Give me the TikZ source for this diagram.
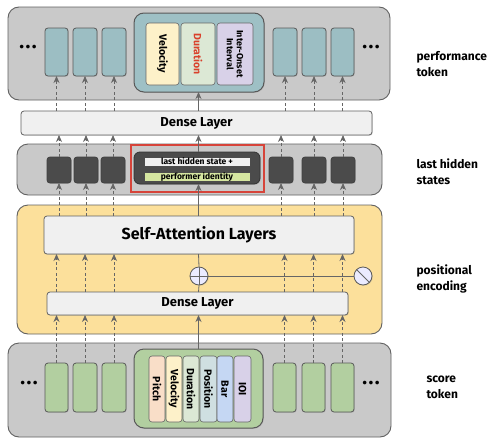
\documentclass[tikz,border=0pt]{standalone}
\usepackage{fontspec}
\setmainfont{Fira Sans}
\usetikzlibrary{arrows.meta,shadows}
\definecolor{panelgray}{HTML}{C9C9C9}
\definecolor{teal}{HTML}{9CBEC3}
\definecolor{tealc}{HTML}{9EC0C5}
\definecolor{darkbox}{HTML}{4B4B4B}
\definecolor{yel}{HTML}{FCE09B}
\definecolor{grn}{HTML}{B2CFA0}
\definecolor{dense}{HTML}{F0F0F0}
\definecolor{redb}{HTML}{D6443A}
\definecolor{cvel}{HTML}{FDF1C9}
\definecolor{cdur}{HTML}{DCE8D5}
\definecolor{cioi}{HTML}{D8D1E8}
\definecolor{cpit}{HTML}{F9DEC8}
\definecolor{cpos}{HTML}{CFDFE1}
\definecolor{cbar}{HTML}{C5D7F3}
\definecolor{cpi}{HTML}{D5E6A0}
\definecolor{lineg}{HTML}{666666}
\definecolor{durred}{HTML}{D9412B}
\newcommand{\rb}[7][]{%
  \pgfmathsetmacro\rbw{#5-#3}\pgfmathsetmacro\rbh{#6-#4}%
  \node[#1, minimum width=\rbw pt, minimum height=\rbh pt, inner sep=0pt, outer sep=0pt] (#2) at ({(#3+#5)/2},{(#4+#6)/2}) {#7};}
\newcommand{\rbr}[7][]{%
  \pgfmathsetmacro\rbw{#5-#3}\pgfmathsetmacro\rbh{#6-#4}%
  \node[#1, rotate=-90, minimum width=\rbh pt, minimum height=\rbw pt, inner sep=0pt, outer sep=0pt] (#2) at ({(#3+#5)/2},{(#4+#6)/2}) {#7};}
\newcommand{\mydots}{.\hspace{1.5pt}.\hspace{1.5pt}.}
\tikzset{
  panel/.style={draw=black!62, line width=0.9pt, rounded corners=11pt},
  tok/.style={draw=black!65, line width=0.8pt, rounded corners=3pt, drop shadow={opacity=0.25, shadow xshift=0.8pt, shadow yshift=-0.8pt}},
  bar/.style={draw=black!60, line width=0.6pt, rounded corners=3pt, font=\bfseries\fontsize{10.5}{11.5}\selectfont, align=center},
  layer/.style={draw=black!62, line width=0.8pt, fill=dense, rounded corners=3pt, font=\bfseries, drop shadow={opacity=0.25, shadow xshift=0.8pt, shadow yshift=-0.8pt}},
  darr/.style={draw=lineg, line width=0.8pt, dash pattern=on 3pt off 2.5pt, -{Stealth[length=7pt,width=6pt,inset=2.2pt]}},
  sarr/.style={draw=lineg, line width=0.8pt, -{Stealth[length=7pt,width=6pt,inset=2.2pt]}},
  sline/.style={draw=lineg, line width=0.8pt},
  dots/.style={font=\bfseries\fontsize{20}{20}\selectfont},
  side/.style={anchor=west, align=left, font=\bfseries\fontsize{12}{16}\selectfont},
  ring/.style={circle, draw=black!65, fill=white!92!blue, line width=0.8pt, minimum size=18pt, inner sep=0pt, drop shadow={opacity=0.25, shadow xshift=0.8pt, shadow yshift=-0.8pt}}
}
\begin{document}
\begin{tikzpicture}[x=1pt,y=-1pt]
\useasboundingbox (0,0) rectangle (500,439);
% panels
\rb[panel, fill=panelgray]{P1}{8}{7}{390}{100}{}
\rb[panel, fill=panelgray]{P2}{17}{144}{382}{195}{}
\rb[panel, fill=yel]{P3}{17}{205}{382}{334}{}
\rb[panel, fill=panelgray]{P4}{8}{343}{391}{437}{}
% performance tokens
\rb[tok, fill=teal]{t1}{45}{28}{68}{76}{}
\rb[tok, fill=teal]{t2}{73}{28}{97}{76}{}
\rb[tok, fill=teal]{t3}{102}{28}{126}{76}{}
\rb[tok, fill=teal]{t4}{273}{28}{297}{76}{}
\rb[tok, fill=teal]{t5}{302}{28}{326}{76}{}
\rb[tok, fill=teal]{t6}{331}{28}{354}{76}{}
\rb[tok, fill=tealc, rounded corners=10pt, line width=1pt]{tc}{134}{13}{264}{92}{}
\rbr[bar, fill=cvel]{tvel}{146}{23}{179}{85}{Velocity}
\rbr[bar, fill=cdur, text=durred]{tdur}{181}{23}{215}{85}{Duration}
\rbr[bar, fill=cioi, font=\bfseries\fontsize{9}{10}\selectfont]{tioi}{217}{23}{253}{85}{Inter-Onset\\Interval}
\node[dots] (dt1) at (28,47) {\mydots};
\node[dots] (dt2) at (371,47) {\mydots};
% dense top
\rb[layer, font=\bfseries\fontsize{13}{14}\selectfont]{D1}{21}{111}{372}{135}{Dense Layer}
% hidden states
\rb[tok, fill=darkbox, draw=black!75]{h1}{47}{157}{71}{183}{}
\rb[tok, fill=darkbox, draw=black!75]{h2}{74}{157}{98}{183}{}
\rb[tok, fill=darkbox, draw=black!75]{h3}{101}{157}{125}{183}{}
\rb[tok, fill=darkbox, draw=black!75]{h4}{269}{157}{293}{183}{}
\rb[tok, fill=darkbox, draw=black!75]{h5}{302}{157}{326}{183}{}
\rb[tok, fill=darkbox, draw=black!75]{h6}{331}{157}{355}{183}{}
\rb[draw=redb, line width=1.3pt]{rbx}{131}{145}{264}{192}{}
\rb[tok, fill=darkbox, draw=black!80, rounded corners=6pt]{hc}{134}{152}{260}{184}{}
\rb[draw=black!70, line width=0.6pt, fill=dense, font=\bfseries\fontsize{8.5}{9}\selectfont]{lh}{144}{157}{250}{166}{last hidden state +}
\rb[draw=black!70, line width=0.6pt, fill=cpi, font=\bfseries\fontsize{8.5}{9}\selectfont]{pid}{144}{172}{250}{181}{performer identity}
% yellow block
\rb[layer, font=\bfseries\fontsize{16}{18}\selectfont]{SA}{44}{216}{354}{254}{Self-Attention Layers}
\rb[layer, font=\bfseries\fontsize{13}{14}\selectfont]{D2}{47}{292}{348}{315}{Dense Layer}
\node[ring] (plus) at (199,276) {};
\node[ring] (sl) at (363,276) {};
\draw[sline] (plus.west) -- (plus.east);
\draw[sline] (plus.north) -- (plus.south);
\draw[sline] (sl.135) -- (sl.-45);
% score tokens
\rb[tok, fill=grn]{g1}{45}{363}{68}{412}{}
\rb[tok, fill=grn]{g2}{73}{363}{97}{412}{}
\rb[tok, fill=grn]{g3}{102}{363}{126}{412}{}
\rb[tok, fill=grn]{g4}{273}{363}{296}{412}{}
\rb[tok, fill=grn]{g5}{302}{363}{325}{412}{}
\rb[tok, fill=grn]{g6}{331}{363}{354}{412}{}
\rb[tok, fill=grn, rounded corners=10pt, line width=1pt]{gc}{134}{349}{263}{428}{}
\rbr[bar, fill=cpit]{spit}{149}{356}{165}{422}{Pitch}
\rbr[bar, fill=cvel]{svel}{166}{356}{182}{422}{Velocity}
\rbr[bar, fill=cdur]{sdur}{183}{356}{199}{422}{Duration}
\rbr[bar, fill=cpos]{spos}{200}{356}{217}{422}{Position}
\rbr[bar, fill=cbar]{sbar}{217}{356}{233}{422}{Bar}
\rbr[bar, fill=cioi]{sioi}{234}{356}{251}{422}{IOI}
\node[dots] (db1) at (29,383) {\mydots};
\node[dots] (db2) at (371,383) {\mydots};
% side labels
\node[side] (lb1) at (413,64) {performance\\token};
\node[side] (lb2) at (413,172) {last hidden\\states};
\node[side] (lb3) at (413,279) {positional\\encoding};
\node[side] (lb4) at (423,387) {score\\token};
% connectors
\foreach \i in {1,...,6}{
  \draw[darr] (g\i.north) -- (g\i.north |- D2.south);
  \draw[darr] (D2.north -| g\i) -- (SA.south -| g\i);
  \draw[darr] (SA.north -| h\i) -- (h\i.south);
  \draw[darr] (h\i.north) -- (D1.south -| h\i);
  \draw[darr] (D1.north -| t\i) -- (t\i.south);
}
\draw[sarr] (gc.north) -- (gc.north |- D2.south);
\draw[sline] (D2.north -| gc) -- (plus.south);
\draw[sline] (plus.north) -- (SA.south -| gc);
\draw[sline] (plus.east) -- (sl.west);
\draw[sarr] (SA.north -| gc) -- (hc.south -| gc);
\draw[sarr] (hc.north -| gc) -- (D1.south -| gc);
\draw[sarr] (D1.north -| gc) -- (tc.south -| gc);
\end{tikzpicture}
\end{document}
